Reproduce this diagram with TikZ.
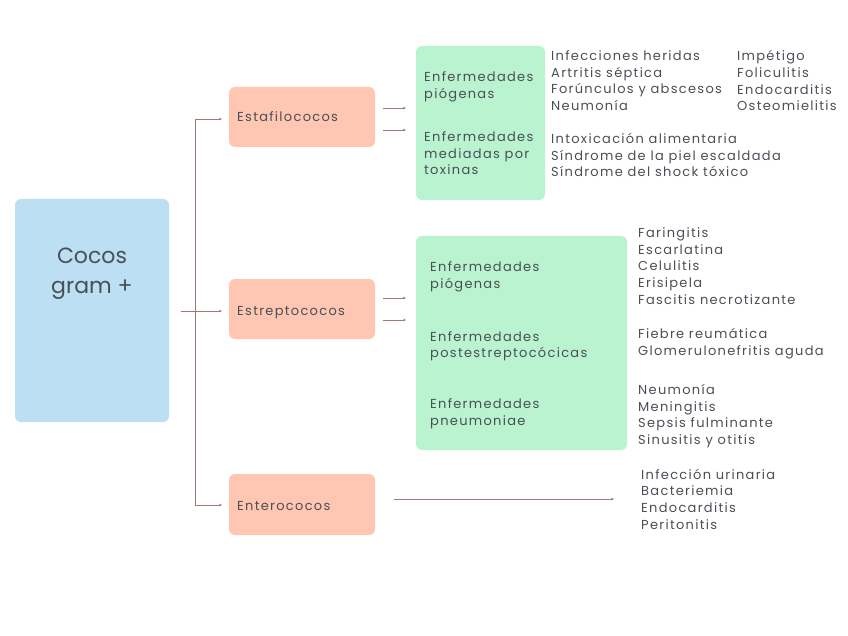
\documentclass[tikz,border=0pt]{standalone}
\usepackage{fontspec}
\setmainfont{Poppins}[LetterSpace=10]
\newfontfamily\titlefont{Poppins}
\usetikzlibrary{arrows.meta}
\definecolor{txt}{HTML}{4A4F57}
\definecolor{blueb}{HTML}{BCDFF4}
\definecolor{salmon}{HTML}{FFC6B1}
\definecolor{mint}{HTML}{B9F3D0}
\definecolor{conn}{HTML}{A07A72}
\tikzset{
  box/.style={rounded corners=6pt, inner sep=0pt},
  lst/.style={anchor=base west, text=txt, align=left, inner sep=0pt,
     font=\fontsize{13}{16.6}\selectfont},
  conline/.style={draw=conn, line width=0.8pt},
  arr/.style={conline, -{Stealth[length=3pt,width=2.6pt]}}
}
\begin{document}
\begin{tikzpicture}[x=1pt,y=-1pt]
\useasboundingbox (0,0) rectangle (848,636);
% boxes
\node[box, fill=blueb, minimum width=154pt, minimum height=223pt] (root) at (92,310.5) {};
\node[anchor=base, text=txt, align=center, inner sep=0pt, font=\titlefont\fontsize{22}{29}\selectfont] (roottxt) at (92,293) {Cocos\\gram +};
\node[box, fill=salmon, minimum width=146pt, minimum height=60pt] (esta) at (302,117) {};
\node[lst] (estat) at (237,122) {Estafilococos};
\node[box, fill=salmon, minimum width=146pt, minimum height=60pt] (estr) at (302,309) {};
\node[lst] (estrt) at (237,315) {Estreptococos};
\node[box, fill=salmon, minimum width=146pt, minimum height=61pt] (ente) at (302,504.5) {};
\node[lst] (entet) at (237,510) {Enterococos};
\node[box, fill=mint, minimum width=129pt, minimum height=154pt] (g1) at (480.5,123) {};
\node[box, fill=mint, minimum width=211pt, minimum height=214pt] (g2) at (521.5,343) {};
% green box labels (anchored at the baseline of the last line)
\node[lst] (g1a) at (424,98.3) {Enfermedades\\piógenas};
\node[lst] (g1b) at (424,175) {Enfermedades\\mediadas por\\toxinas};
\node[lst] (g2a) at (430,288.3) {Enfermedades\\piógenas};
\node[lst] (g2b) at (430,357.7) {Enfermedades\\postestreptocócicas};
\node[lst] (g2c) at (430,425) {Enfermedades\\pneumoniae};
% lists
\node[lst] (l1) at (551,110.3) {Infecciones heridas\\Artritis séptica\\Forúnculos y abscesos\\Neumonía};
\node[lst] (l2) at (737,110.7) {Impétigo\\Foliculitis\\Endocarditis\\Osteomielitis};
\node[lst] (l3) at (551,176.7) {Intoxicación alimentaria\\Síndrome de la piel escaldada\\Síndrome del shock tóxico};
\node[lst] (l4) at (638,304) {Faringitis\\Escarlatina\\Celulitis\\Erisipela\\Fascitis necrotizante};
\node[lst] (l5) at (638,355) {Fiebre reumática\\Glomerulonefritis aguda};
\node[lst] (l6) at (638,444.3) {Neumonía\\Meningitis\\Sepsis fulminante\\Sinusitis y otitis};
\node[lst] (l7) at (641,529) {Infección urinaria\\Bacteriemia\\Endocarditis\\Peritonitis};
% connectors
\coordinate (s0) at (181,311);
\coordinate (top) at (195,119);
\coordinate (bot) at (195,505);
\draw[conline] (top) -- (bot);
\draw[arr] (s0) -- (222,311);
\draw[arr] (top) -- (222,119);
\draw[arr] (bot) -- (222,505);
\draw[arr] (383,108) -- (406,108);
\draw[arr] (383,130) -- (406,130);
\draw[arr] (383,298) -- (406,298);
\draw[arr] (383,320) -- (406,320);
\draw[arr] (394,499) -- (614,499);
\end{tikzpicture}
\end{document}
